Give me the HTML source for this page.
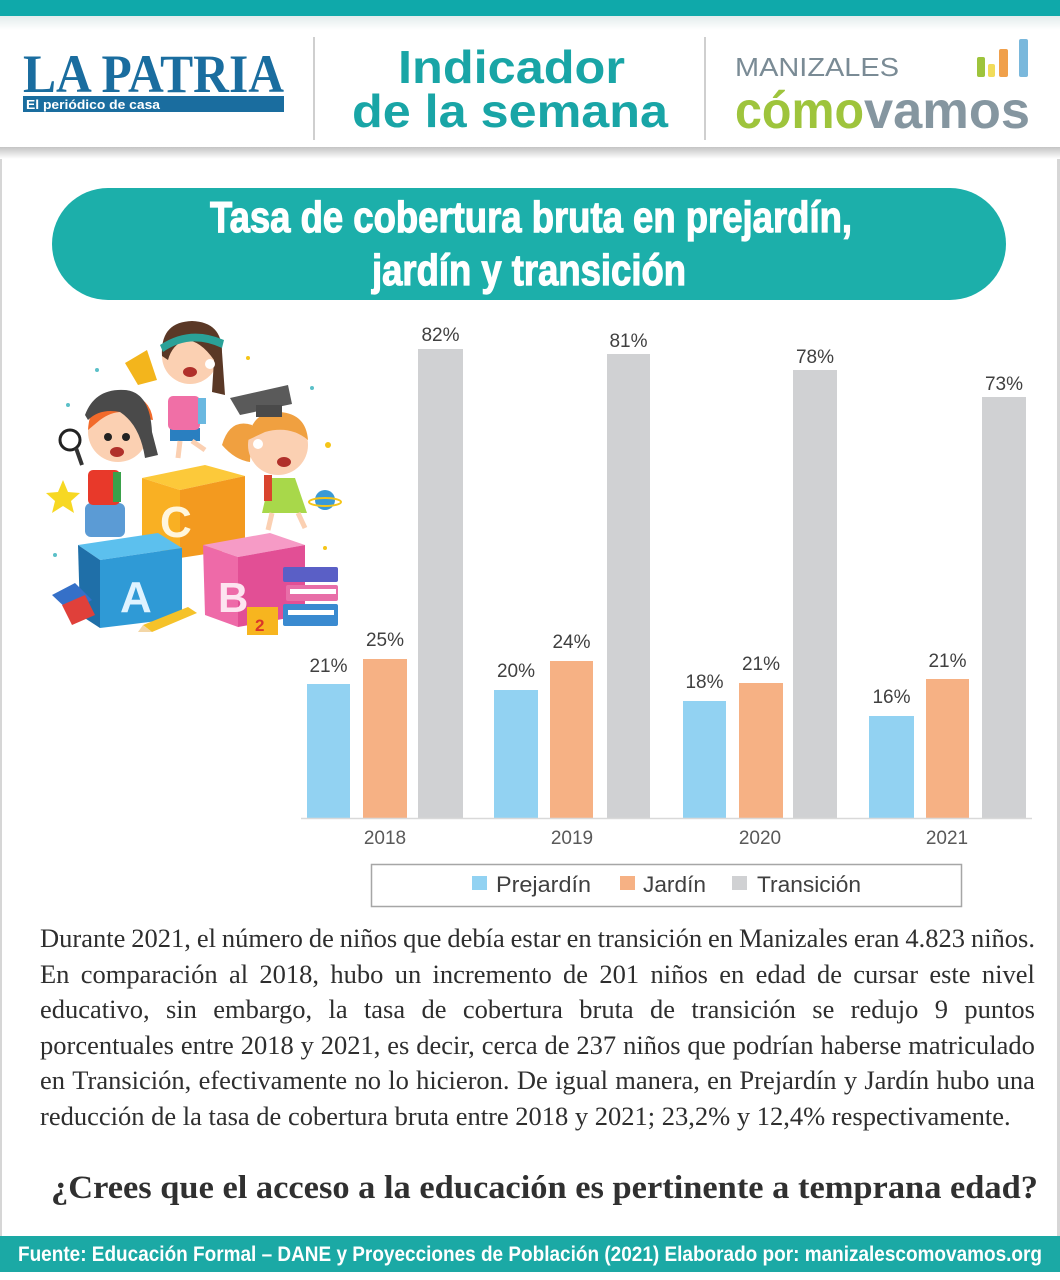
<!DOCTYPE html>
<html>
<head>
<meta charset="utf-8">
<style>
  html,body{margin:0;padding:0;background:#fff;}
  #wrap{position:relative;width:1060px;height:1280px;overflow:hidden;background:#fff;}
  svg{position:absolute;left:0;top:0;}
  .para{position:absolute;left:40px;top:921px;color:#2e2e2e;
        font-family:"Liberation Serif",serif;font-size:26.5px;line-height:35.6px;}
  .ln{display:flex;justify-content:space-between;width:995px;height:35.6px;white-space:nowrap;}
  .ln span{flex:0 0 auto;}
  .last{display:block;width:1000px;height:35.6px;white-space:nowrap;}
</style>
</head>
<body>
<div id="wrap">
<svg width="1060" height="1280" viewBox="0 0 1060 1280" xmlns="http://www.w3.org/2000/svg">
  <defs>
    <linearGradient id="hg" x1="0" y1="0" x2="0" y2="1">
      <stop offset="0" stop-color="#e3ecec"/>
      <stop offset="1" stop-color="#ffffff"/>
    </linearGradient>
    <linearGradient id="sh" x1="0" y1="0" x2="0" y2="1">
      <stop offset="0" stop-color="#c4c4c4"/>
      <stop offset="1" stop-color="#ffffff"/>
    </linearGradient>
  </defs>
  <rect x="0" y="0" width="1060" height="1280" fill="#ffffff"/>
  <rect x="0" y="150" width="2" height="1086" fill="#d6d6d6"/>
  <rect x="1057" y="150" width="3" height="1086" fill="#d6d6d6"/>
  <rect x="0" y="0" width="1060" height="16" fill="#0fa9aa"/>
  <rect x="0" y="16" width="1060" height="14" fill="url(#hg)"/>
  <rect x="0" y="147" width="1060" height="12" fill="url(#sh)"/>

  <!-- LA PATRIA logo -->
  <text x="23" y="92" font-family="Liberation Serif, serif" font-weight="bold" font-size="54" fill="#1a6d9f" textLength="261" lengthAdjust="spacingAndGlyphs">LA PATRIA</text>
  <rect x="23" y="96" width="261" height="16" fill="#1a6d9f"/>
  <text x="26" y="109" font-family="Liberation Sans, sans-serif" font-weight="bold" font-size="13" fill="#ffffff" textLength="134" lengthAdjust="spacingAndGlyphs">El periódico de casa</text>

  <rect x="313" y="37" width="2" height="103" fill="#cfcfcf"/>
  <rect x="704" y="37" width="2" height="103" fill="#cfcfcf"/>

  <text x="398" y="83" font-family="Liberation Sans, sans-serif" font-weight="bold" font-size="46" fill="#19a5a6" textLength="227" lengthAdjust="spacingAndGlyphs">Indicador</text>
  <text x="352" y="127" font-family="Liberation Sans, sans-serif" font-weight="bold" font-size="46" fill="#19a5a6" textLength="316" lengthAdjust="spacingAndGlyphs">de la semana</text>

  <text x="735" y="76" font-family="Liberation Sans, sans-serif" font-size="26" fill="#7a8b95" textLength="164" lengthAdjust="spacingAndGlyphs">MANIZALES</text>
  <rect x="977" y="57" width="8" height="20" rx="2" fill="#9ec43c"/>
  <rect x="988" y="64" width="7" height="13" rx="2" fill="#f1dc5a"/>
  <rect x="999" y="49" width="9" height="28" rx="2" fill="#f0a04b"/>
  <rect x="1019" y="39" width="9" height="38" rx="2" fill="#7ab8dc"/>
  <text x="735" y="128" font-family="Liberation Sans, sans-serif" font-weight="bold" font-size="52" fill="#9ec43c" textLength="129" lengthAdjust="spacingAndGlyphs">cómo</text>
  <text x="864" y="128" font-family="Liberation Sans, sans-serif" font-weight="bold" font-size="52" fill="#8596a0" textLength="166" lengthAdjust="spacingAndGlyphs">vamos</text>

  <!-- title banner -->
  <rect x="52" y="188" width="954" height="112" rx="56" ry="56" fill="#1cafaa"/>
  <text x="210" y="232" font-family="Liberation Sans Narrow, Liberation Sans, sans-serif" font-weight="bold" font-size="44" fill="#ffffff" stroke="#ffffff" stroke-width="1.2" textLength="642" lengthAdjust="spacingAndGlyphs">Tasa de cobertura bruta en prejardín,</text>
  <text x="372" y="285" font-family="Liberation Sans Narrow, Liberation Sans, sans-serif" font-weight="bold" font-size="44" fill="#ffffff" stroke="#ffffff" stroke-width="1.2" textLength="314" lengthAdjust="spacingAndGlyphs">jardín y transición</text>

  <!-- ===== illustration (simplified) ===== -->
  <g>
    <circle cx="97" cy="370" r="2" fill="#5bc0c8"/>
    <circle cx="248" cy="358" r="2" fill="#f5c518"/>
    <circle cx="312" cy="388" r="2" fill="#5bc0c8"/>
    <circle cx="68" cy="405" r="2" fill="#5bc0c8"/>
    <circle cx="55" cy="555" r="2" fill="#5bc0c8"/>
    <circle cx="325" cy="548" r="2" fill="#f5c518"/>
    <circle cx="328" cy="445" r="3" fill="#f5c518"/>
    <circle cx="70" cy="440" r="10" fill="#ffffff" stroke="#222" stroke-width="3"/>
    <line x1="76" y1="448" x2="82" y2="465" stroke="#333" stroke-width="4"/>
    <polygon points="63,480 68,492 80,493 71,501 74,513 63,506 52,513 55,501 46,493 58,492" fill="#f7d823"/>
    <polygon points="125,363 147,350 157,380 138,385" fill="#f3b51c"/>
    <!-- boy -->
    <rect x="85" y="503" width="40" height="34" rx="6" fill="#5b9bd5"/>
    <rect x="88" y="470" width="32" height="35" rx="5" fill="#e8392a"/>
    <rect x="113" y="472" width="8" height="30" fill="#3aa14a"/>
    <circle cx="118" cy="432" r="30" fill="#fbd0b2"/>
    <path d="M88,430 Q90,395 122,393 Q150,395 153,420 L140,418 Q120,405 100,420 Z" fill="#f26a2a"/>
    <path d="M85,415 Q95,388 125,390 Q150,392 152,432 L158,455 L145,458 Q140,425 120,412 Q100,408 88,420 Z" fill="#4a4a4a"/>
    <circle cx="108" cy="437" r="4" fill="#222"/>
    <circle cx="126" cy="437" r="4" fill="#222"/>
    <ellipse cx="117" cy="452" rx="7" ry="5" fill="#b0302a"/>
    <!-- top girl -->
    <rect x="170" y="428" width="30" height="13" fill="#2a7fc0"/>
    <rect x="168" y="396" width="32" height="34" rx="5" fill="#f06fa6"/>
    <rect x="198" y="398" width="8" height="26" fill="#6ab8e0"/>
    <line x1="180" y1="441" x2="178" y2="458" stroke="#fbd0b2" stroke-width="5"/>
    <line x1="192" y1="441" x2="205" y2="450" stroke="#fbd0b2" stroke-width="5"/>
    <circle cx="190" cy="356" r="28" fill="#fbd0b2"/>
    <path d="M162,356 Q160,322 192,321 Q222,322 222,352 L225,395 L212,392 L214,360 Q200,340 185,340 Q172,345 168,360 Z" fill="#5a3826"/>
    <path d="M160,345 Q190,325 224,340 L222,348 Q190,333 163,352 Z" fill="#2aa198"/>
    <ellipse cx="190" cy="372" rx="7" ry="5" fill="#b0302a"/>
    <circle cx="210" cy="364" r="5" fill="#ffffff"/>
    <!-- right girl -->
    <polygon points="270,478 295,478 307,513 262,513" fill="#a8d84a"/>
    <rect x="264" y="475" width="8" height="26" fill="#d9442e"/>
    <line x1="272" y1="513" x2="268" y2="530" stroke="#fbd0b2" stroke-width="5"/>
    <line x1="298" y1="513" x2="305" y2="528" stroke="#fbd0b2" stroke-width="5"/>
    <path d="M222,445 Q230,418 252,425 L250,462 Q235,460 222,445 Z" fill="#f0a040"/>
    <circle cx="278" cy="445" r="30" fill="#fbd0b2"/>
    <path d="M248,440 Q252,410 280,412 Q306,414 308,440 Q290,425 265,432 Z" fill="#f0a040"/>
    <polygon points="230,398 288,385 292,404 240,415" fill="#5a5a5a"/>
    <rect x="256" y="405" width="26" height="12" fill="#4a4a4a"/>
    <circle cx="258" cy="444" r="5" fill="#ffffff"/>
    <ellipse cx="284" cy="462" rx="7" ry="5" fill="#b0302a"/>
    <circle cx="325" cy="500" r="10" fill="#3a9ad6"/>
    <ellipse cx="325" cy="502" rx="16" ry="4" fill="none" stroke="#f5c518" stroke-width="2"/>
    <!-- orange cube C -->
    <polygon points="142,478 205,465 245,476 180,490" fill="#fcc93a"/>
    <polygon points="142,478 180,490 180,558 142,545" fill="#f9b023"/>
    <polygon points="180,490 245,476 245,548 180,558" fill="#f39a1f"/>
    <text x="160" y="537" font-family="Liberation Sans, sans-serif" font-weight="bold" font-size="44" fill="#fff6dd">C</text>
    <!-- blue cube A -->
    <polygon points="78,545 158,533 182,548 100,560" fill="#5cc0ee"/>
    <polygon points="78,545 100,560 100,628 80,615" fill="#1f6fa8"/>
    <polygon points="100,560 182,548 182,618 100,628" fill="#2f9ad6"/>
    <text x="120" y="612" font-family="Liberation Sans, sans-serif" font-weight="bold" font-size="44" fill="#dff3ff">A</text>
    <!-- pink cube B -->
    <polygon points="203,545 270,533 305,545 238,557" fill="#f69bc6"/>
    <polygon points="203,545 238,557 238,627 205,615" fill="#ee6aa8"/>
    <polygon points="238,557 305,545 305,615 238,627" fill="#e24f95"/>
    <text x="218" y="612" font-family="Liberation Sans, sans-serif" font-weight="bold" font-size="42" fill="#fde4f0">B</text>
    <!-- books -->
    <rect x="283" y="567" width="55" height="15" rx="2" fill="#5a5fc6"/>
    <rect x="286" y="585" width="52" height="16" rx="2" fill="#e86ea8"/>
    <rect x="290" y="589" width="46" height="5" fill="#ffffff"/>
    <rect x="283" y="604" width="55" height="22" rx="2" fill="#3a8ad0"/>
    <rect x="288" y="610" width="46" height="5" fill="#ffffff"/>
    <rect x="247" y="607" width="31" height="28" fill="#f7b51f"/>
    <text x="255" y="631" font-family="Liberation Sans, sans-serif" font-weight="bold" font-size="17" fill="#d9362a">2</text>
    <polygon points="52,595 75,583 92,600 70,612" fill="#3570c8"/>
    <polygon points="62,605 85,595 95,615 72,625" fill="#e0403a"/>
    <polygon points="143,625 188,607 197,613 152,632" fill="#f5c22a"/>
    <polygon points="143,625 152,632 138,632" fill="#f3d6a6"/>
  </g>

  <!-- ===== chart ===== -->
  <g>
    <rect x="307" y="684" width="43" height="134" fill="#92d2f2"/>
    <rect x="494" y="690" width="44" height="128" fill="#92d2f2"/>
    <rect x="683" y="701" width="43" height="117" fill="#92d2f2"/>
    <rect x="869" y="716" width="45" height="102" fill="#92d2f2"/>
    <rect x="363" y="659" width="44" height="159" fill="#f6b184"/>
    <rect x="550" y="661" width="43" height="157" fill="#f6b184"/>
    <rect x="739" y="683" width="44" height="135" fill="#f6b184"/>
    <rect x="926" y="679" width="43" height="139" fill="#f6b184"/>
    <rect x="418" y="349" width="45" height="469" fill="#d0d1d3"/>
    <rect x="607" y="354" width="43" height="464" fill="#d0d1d3"/>
    <rect x="793" y="370" width="44" height="448" fill="#d0d1d3"/>
    <rect x="982" y="397" width="44" height="421" fill="#d0d1d3"/>
    <line x1="301" y1="818.5" x2="1032" y2="818.5" stroke="#d9d9d9" stroke-width="1.5"/>
    <g font-family="Liberation Sans, sans-serif" font-size="19" fill="#404040" text-anchor="middle">
      <text x="328.5" y="672">21%</text>
      <text x="385" y="646">25%</text>
      <text x="440.5" y="341">82%</text>
      <text x="516" y="677">20%</text>
      <text x="571.5" y="648">24%</text>
      <text x="628.5" y="347">81%</text>
      <text x="704.5" y="688">18%</text>
      <text x="761" y="670">21%</text>
      <text x="815" y="363">78%</text>
      <text x="891.5" y="703">16%</text>
      <text x="947.5" y="667">21%</text>
      <text x="1004" y="390">73%</text>
    </g>
    <g font-family="Liberation Sans, sans-serif" font-size="19" fill="#595959" text-anchor="middle">
      <text x="385" y="844">2018</text>
      <text x="572" y="844">2019</text>
      <text x="760" y="844">2020</text>
      <text x="947" y="844">2021</text>
    </g>
    <rect x="371.5" y="864.5" width="590" height="42" fill="#ffffff" stroke="#a6a6a6" stroke-width="1.5"/>
    <rect x="472" y="876" width="15" height="14" fill="#92d2f2"/>
    <rect x="620" y="876" width="15" height="14" fill="#f6b184"/>
    <rect x="732" y="876" width="15" height="14" fill="#d0d1d3"/>
    <g font-family="Liberation Sans, sans-serif" font-size="22" fill="#404040">
      <text x="496" y="892" textLength="95" lengthAdjust="spacingAndGlyphs">Prejardín</text>
      <text x="643" y="892" textLength="63" lengthAdjust="spacingAndGlyphs">Jardín</text>
      <text x="757" y="892" textLength="104" lengthAdjust="spacingAndGlyphs">Transición</text>
    </g>
  </g>

  <!-- question -->
  <text x="51" y="1198" font-family="Liberation Serif, serif" font-weight="bold" font-size="33" fill="#303030" textLength="987" lengthAdjust="spacingAndGlyphs">¿Crees que el acceso a la educación es pertinente a temprana edad?</text>

  <!-- footer -->
  <rect x="0" y="1236" width="1060" height="36" fill="#1ba9a5"/>
  <text x="18" y="1261" font-family="Liberation Sans Narrow, Liberation Sans, sans-serif" font-weight="bold" font-size="21" fill="#ffffff" textLength="1024" lengthAdjust="spacingAndGlyphs">Fuente: Educación Formal – DANE y Proyecciones de Población (2021) Elaborado por: manizalescomovamos.org</text>
</svg>

<div class="para">
  <div class="ln"><span>Durante</span> <span>2021,</span> <span>el</span> <span>número</span> <span>de</span> <span>niños</span> <span>que</span> <span>debía</span> <span>estar</span> <span>en</span> <span>transición</span> <span>en</span> <span>Manizales</span> <span>eran</span> <span>4.823</span> <span>niños.</span></div>
  <div class="ln"><span>En</span> <span>comparación</span> <span>al</span> <span>2018,</span> <span>hubo</span> <span>un</span> <span>incremento</span> <span>de</span> <span>201</span> <span>niños</span> <span>en</span> <span>edad</span> <span>de</span> <span>cursar</span> <span>este</span> <span>nivel</span></div>
  <div class="ln"><span>educativo,</span> <span>sin</span> <span>embargo,</span> <span>la</span> <span>tasa</span> <span>de</span> <span>cobertura</span> <span>bruta</span> <span>de</span> <span>transición</span> <span>se</span> <span>redujo</span> <span>9</span> <span>puntos</span></div>
  <div class="ln"><span>porcentuales</span> <span>entre</span> <span>2018</span> <span>y</span> <span>2021,</span> <span>es</span> <span>decir,</span> <span>cerca</span> <span>de</span> <span>237</span> <span>niños</span> <span>que</span> <span>podrían</span> <span>haberse</span> <span>matriculado</span></div>
  <div class="ln"><span>en</span> <span>Transición,</span> <span>efectivamente</span> <span>no</span> <span>lo</span> <span>hicieron.</span> <span>De</span> <span>igual</span> <span>manera,</span> <span>en</span> <span>Prejardín</span> <span>y</span> <span>Jardín</span> <span>hubo</span> <span>una</span></div>
  <div class="last">reducción de la tasa de cobertura bruta entre 2018 y 2021; 23,2% y 12,4% respectivamente.</div>
</div>
</div>
</body>
</html>
